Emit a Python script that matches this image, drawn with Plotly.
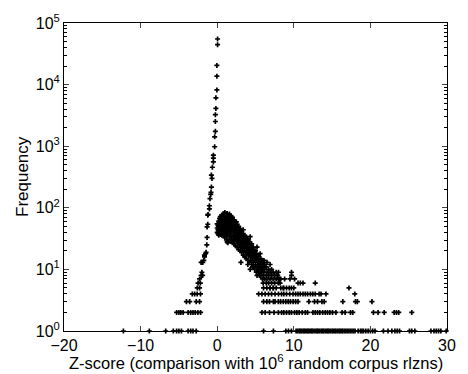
import plotly.graph_objects as go

# ---- data ----
# central spike and left (negative Z) branch
z_spike = [0.05, 0.05, -0.04, -0.04, -0.04, -0.17, -0.17, -0.24, -0.24, -0.24,
           -0.33, -0.33, -0.5, -0.5, -0.5, -0.63, -0.76, -0.68, -0.76, -0.81,
           -0.85, -0.94, -1.02, -1.02, -1.2, -1.23, -1.23, -1.32, -1.32, -1.36,
           -1.45, -1.5, -1.66, -1.66, -1.75, -1.88, -2.1, -2.0, -2.1, -1.9,
           -2.3, -2.5, -2.2, -2.6, -2.3]
f_spike = [55000, 44500, 20500, 13700, 8200, 6100, 4100, 3250, 2520, 1740,
           1420, 980, 715, 640, 555, 455, 340, 300, 217, 178,
           165, 141, 108, 96, 78, 76, 54, 49, 33, 25,
           19, 18, 17, 16, 14, 13, 13, 9, 8, 8,
           7, 6, 6, 5, 5]

# right (positive Z) continuous cloud
z_cloud = [0.0, 0.0, 0.0, 0.1, 0.1, 0.1, 0.2, 0.2, 0.2, 0.2,
           0.3, 0.3, 0.3, 0.3, 0.4, 0.4, 0.4, 0.4, 0.4, 0.5,
           0.5, 0.5, 0.5, 0.6, 0.6, 0.6, 0.6, 0.6, 0.7, 0.7,
           0.7, 0.7, 0.7, 0.8, 0.8, 0.8, 0.8, 0.8, 0.9, 0.9,
           0.9, 0.9, 0.9, 1.0, 1.0, 1.0, 1.0, 1.0, 1.1, 1.1,
           1.1, 1.1, 1.1, 1.2, 1.2, 1.2, 1.2, 1.2, 1.3, 1.3,
           1.3, 1.3, 1.3, 1.4, 1.4, 1.4, 1.4, 1.4, 1.5, 1.5,
           1.5, 1.5, 1.6, 1.6, 1.6, 1.6, 1.6, 1.7, 1.7, 1.7,
           1.7, 1.8, 1.8, 1.8, 1.8, 1.9, 1.9, 1.9, 1.9, 2.0,
           2.0, 2.0, 2.0, 2.0, 2.1, 2.1, 2.1, 2.1, 2.2, 2.2,
           2.2, 2.2, 2.3, 2.3, 2.3, 2.3, 2.4, 2.4, 2.4, 2.4,
           2.5, 2.5, 2.5, 2.5, 2.6, 2.6, 2.6, 2.6, 2.7, 2.7,
           2.7, 2.7, 2.8, 2.8, 2.8, 2.8, 2.9, 2.9, 2.9, 2.9,
           3.0, 3.0, 3.0, 3.0, 3.1, 3.1, 3.1, 3.1, 3.2, 3.2,
           3.2, 3.2, 3.3, 3.3, 3.3, 3.4, 3.4, 3.4, 3.4, 3.5,
           3.5, 3.5, 3.6, 3.6, 3.6, 3.6, 3.7, 3.7, 3.7, 3.8,
           3.8, 3.8, 3.8, 3.9, 3.9, 3.9, 4.0, 4.0, 4.0, 4.0,
           4.1, 4.1, 4.1, 4.2, 4.2, 4.2, 4.2, 4.3, 4.3, 4.3,
           4.3, 4.4, 4.4, 4.4, 4.5, 4.5, 4.5, 4.5, 4.6, 4.6,
           4.6, 4.7, 4.7, 4.7, 4.8, 4.8, 4.8, 4.9, 4.9, 4.9,
           5.0, 5.0, 5.0, 5.1, 5.1, 5.1, 5.2, 5.2, 5.2, 5.2,
           5.3, 5.3, 5.3, 5.4, 5.4, 5.4, 5.5, 5.5, 5.5, 5.6,
           5.6, 5.6, 5.7, 5.7, 5.7, 5.8, 5.8, 5.8, 5.9, 5.9,
           5.9, 6.0, 6.0, 6.0, 6.1, 6.1, 6.1, 6.2, 6.2, 6.2,
           6.4, 6.4, 6.4, 6.5, 6.5, 6.5, 6.7, 6.7, 6.7, 6.9,
           6.9, 6.9, 6.9, 7.1, 7.1, 7.1, 7.3, 7.3, 7.3, 7.5,
           7.5, 7.7, 7.7, 7.7, 8.3, 8.3]
f_cloud = [40, 47, 55, 38, 52, 44, 42, 61, 49, 36,
           45, 58, 67, 39, 37, 50, 63, 72, 43, 41,
           55, 69, 47, 36, 48, 60, 76, 53, 44, 57,
           71, 39, 65, 35, 50, 62, 80, 46, 42, 54,
           68, 74, 38, 33, 47, 59, 84, 51, 40, 63,
           72, 45, 56, 30, 49, 66, 78, 37, 28, 43,
           58, 81, 52, 35, 61, 70, 46, 27, 39, 55,
           75, 48, 31, 44, 64, 79, 53, 36, 57, 68,
           42, 29, 47, 60, 73, 33, 51, 65, 40, 27,
           43, 56, 70, 49, 35, 62, 46, 30, 26, 41,
           53, 64, 37, 48, 58, 31, 24, 44, 55, 34,
           29, 39, 50, 59, 23, 33, 46, 54, 27, 41,
           36, 49, 21, 31, 44, 50, 25, 35, 40, 29,
           20, 28, 38, 46, 23, 33, 42, 13, 19, 26,
           36, 41, 22, 30, 34, 17, 25, 38, 44, 20,
           28, 32, 16, 23, 35, 30, 19, 26, 33, 15,
           22, 29, 34, 18, 24, 31, 14, 20, 27, 12,
           17, 23, 30, 13, 19, 25, 28, 16, 21, 10,
           34, 14, 18, 24, 12, 17, 22, 26, 15, 20,
           11, 13, 18, 23, 11, 16, 21, 14, 19, 10,
           12, 17, 20, 9, 15, 18, 11, 14, 8, 23,
           13, 16, 10, 9, 12, 17, 11, 14, 8, 10,
           13, 18, 8, 12, 15, 9, 11, 14, 7, 10,
           13, 8, 12, 6, 9, 11, 14, 7, 10, 12,
           6, 8, 11, 7, 9, 13, 6, 8, 10, 5,
           7, 9, 12, 6, 8, 10, 5, 7, 9, 6,
           8, 5, 7, 9, 5, 7]

# discrete low-frequency tail: Z values at each frequency level
z_f9 = [8.0, 9.7]
z_f8 = [7.9, 9.7]
z_f7 = [8.0, 8.1, 8.8, 9.5, 10.1]
z_f6 = [7.96, 8.2, 10.55, 10.85, 11.2, 12.8]
z_f5 = [6.05, 6.48, 6.9, 7.34, 8.6, 8.7, 9.05, 9.4, 9.69, 10.0, 17.2]
z_f4 = [5.41, 5.84, 6.26, 6.7, 7.1, 7.55, 8.0, 8.4, 8.7, 9.05, 9.47, 9.9,
        10.24, 10.55, 10.85, 11.2, 11.5, 11.8, 12.17, 12.48, 12.8, 13.3,
        13.55, 14.2, 17.96,
        -3.25, -2.94, -2.61, -2.18]
z_f3 = [6.05, 6.48, 6.83, 7.34, 7.55, 7.98, 8.28, 8.63, 8.96, 9.27, 9.56,
        9.91, 10.24, 10.55, 11.97, 12.7, 13.1, 13.67, 13.97, 16.4, 18.05,
        18.3, 20.2,
        -4.02, -3.59, -2.74, -2.30]
z_f2 = [5.84, 6.26, 6.83, 7.42, 7.98, 8.41, 8.70, 9.05, 9.4, 9.69, 10.1,
        10.4, 10.7, 11.1, 11.5, 11.8, 12.5, 12.8, 13.1, 13.4, 13.77, 14.1,
        14.4, 14.7, 15.05, 15.5, 16.3, 16.7, 17.4, 17.7, 20.4, 21.0, 21.8,
        23.1, 23.4, 23.7, 25.4,
        -5.3, -5.0, -4.75, -4.45, -3.8, -3.46, -3.16, -2.87, -2.52, -2.17]
z_f1 = [-12.25, -8.86, -6.72, -5.73, -5.3, -5.0, -4.67, -3.8, -3.46, -3.16,
        -2.74,
        6.05, 7.34, 8.96, 9.3, 9.69, 10.3, 10.5, 10.7, 10.85, 11.0, 11.2,
        11.35, 11.5, 11.7, 11.85, 12.0, 12.2, 12.35, 12.5, 12.7, 12.9, 13.05,
        13.2, 13.4, 13.6, 13.75, 13.9, 14.1, 14.3, 14.45, 14.6, 14.8, 15.0,
        15.15, 15.35, 15.5, 15.7, 15.9, 16.05, 16.25, 16.4, 16.6, 16.8, 17.0,
        17.2, 17.4, 17.6, 17.8, 18.0, 18.4, 18.7, 18.9, 19.1, 19.4, 19.7,
        20.0, 20.3, 20.6, 21.7, 22.3, 22.8, 23.2, 23.5, 23.8, 25.1, 25.4,
        25.8, 27.9, 28.3, 28.6, 28.9, 29.2, 29.9]

tail_levels = {9: z_f9, 8: z_f8, 7: z_f7, 6: z_f6, 5: z_f5,
               4: z_f4, 3: z_f3, 2: z_f2, 1: z_f1}

x_ticks = [-20, -10, 0, 10, 20, 30]
y_tickvals = [1, 10, 100, 1000, 10000, 100000]
y_ticktext = ["10<sup>%d</sup>" % i for i in range(6)]
y_minor = [m * 10 ** d for d in range(5) for m in range(2, 10)]

# ---- build ----
xs = list(z_spike) + list(z_cloud)
ys = list(f_spike) + list(f_cloud)
for lvl, zl in tail_levels.items():
    xs += zl
    ys += [lvl] * len(zl)

FONT = "Liberation Sans, Arial, sans-serif"

fig = go.Figure()
fig.add_trace(go.Scatter(
    x=xs, y=ys, mode="markers", cliponaxis=False,
    marker=dict(symbol="cross", size=4.2, color="black", line=dict(width=0)),
    showlegend=False, hoverinfo="skip"))

fig.update_layout(
    width=468, height=374,
    margin=dict(l=64, r=15, t=18, b=43),
    paper_bgcolor="white", plot_bgcolor="white",
    font=dict(family=FONT, size=16, color="black"),
    xaxis=dict(range=[-20, 30], tickvals=x_ticks, ticks="inside", ticklen=5,
               showline=True, linecolor="black", linewidth=1, mirror="allticks",
               showgrid=False, zeroline=False, tickfont=dict(size=16)),
    yaxis=dict(type="log", range=[0, 5], tickvals=y_tickvals,
               ticktext=y_ticktext, ticks="inside", ticklen=5,
               showline=True, linecolor="black", linewidth=1, mirror="allticks",
               showgrid=False, zeroline=False, tickfont=dict(size=16),
               minor=dict(tickmode="array", tickvals=y_minor, ticks="inside",
                          ticklen=3, showgrid=False, tickcolor="black")),
    annotations=[
        dict(text="Z-score (comparison with 10<sup>6</sup> random corpus rlzns)",
             xref="paper", yref="paper", x=0.5, y=0, yshift=-31,
             showarrow=False, font=dict(size=16.5), yanchor="middle"),
        dict(text="Frequency", xref="paper", yref="paper", x=0, xshift=-42,
             y=0.5, textangle=-90, showarrow=False, font=dict(size=17),
             xanchor="center", yanchor="middle"),
    ],
)

fig.write_html("out.html")
